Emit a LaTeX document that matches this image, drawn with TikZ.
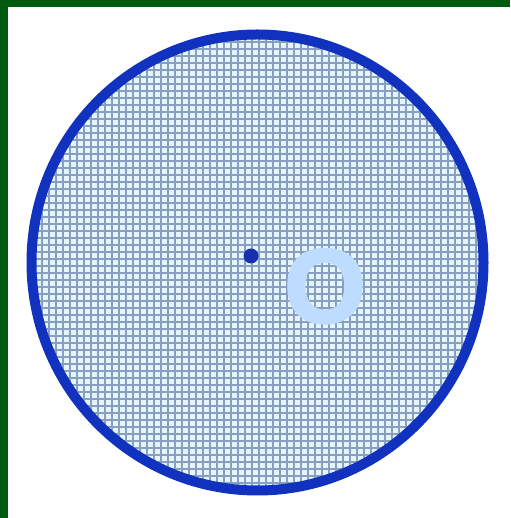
\documentclass[tikz,border=0pt]{standalone}
\usepackage{fontspec}
\newfontfamily\labelfont[FakeBold=3]{Liberation Sans}
\usepackage{xcolor}
\usetikzlibrary{positioning}
\definecolor{framegreen}{RGB}{0,90,16}
\definecolor{rimblue}{RGB}{16,50,190}
\definecolor{dotblue}{RGB}{22,48,175}
\definecolor{cellblue}{RGB}{230,244,255}
\definecolor{gridgray}{RGB}{136,160,192}
\definecolor{ringblue}{RGB}{190,220,255}

\begin{document}
\begin{tikzpicture}[
  x=1pt, y=1pt,
  rim/.style={draw=rimblue, line width=10pt},
  meshline/.style={draw=gridgray, line width=1.3pt},
  centerdot/.style={circle, fill=dotblue, inner sep=0pt, minimum size=15pt},
  letter/.style={inner sep=0pt, text=ringblue, font=\labelfont\bfseries\fontsize{104}{104}\selectfont}
]
  \useasboundingbox (0,0) rectangle (510,518);
  \fill[white] (0,0) rectangle (510,518);

  % Frame: top and left bars
  \fill[framegreen] (0,511) rectangle (510,518);
  \fill[framegreen] (0,0) rectangle (8,518);

  % Disc with mesh
  \begin{scope}
    \clip (257.5,255.5) ellipse [x radius=226, y radius=228];
    \fill[cellblue] (20,20) rectangle (500,500);
    \draw[meshline, step=7pt] (21,21) grid (500,500);
  \end{scope}
  \draw[rim] (257.5,255.5) ellipse [x radius=226, y radius=228];

  % Centre and its label
  \node[centerdot] (c) at (251,262) {};
  \node[letter, anchor=base] (olabel) at (325,196) {O};
\end{tikzpicture}
\end{document}
